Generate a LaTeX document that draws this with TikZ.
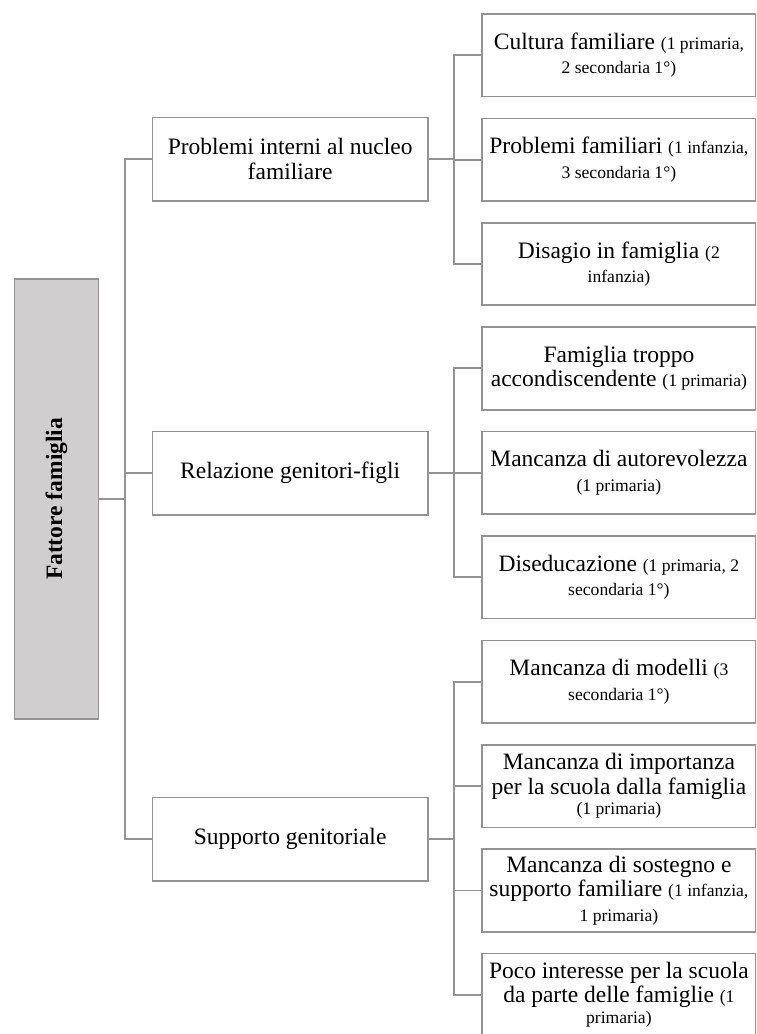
\documentclass[tikz,border=0pt]{standalone}
\usepackage{graphicx}
\usepackage{fontspec}
\setmainfont{Liberation Serif}
\definecolor{linegray}{RGB}{148,148,148}
\definecolor{rootfill}{RGB}{208,206,207}
% smaller font for the counts in brackets
\newcommand{\smalltxt}[1]{{\fontsize{17.6}{24.5}\selectfont #1}}
\begin{document}
\begin{tikzpicture}[x=1pt,y=-1pt,
  basebox/.style={draw=linegray, line width=1.8pt, inner sep=0pt, align=center,
    anchor=north west, font=\fontsize{23.5}{24.5}\selectfont},
  rootbox/.style={basebox, fill=rootfill, minimum width=84pt, minimum height=440pt},
  midbox/.style={basebox, fill=white, minimum width=275.5pt, minimum height=83.5pt},
  leafbox/.style={basebox, fill=white, minimum width=274pt, minimum height=82.5pt},
  conn/.style={draw=linegray, line width=1.8pt}]
\useasboundingbox (0,0) rectangle (756,1034);
\clip (0,0) rectangle (756,1034);

% root
\node[rootbox] (root) at (13.5,278) {\rotatebox{90}{\bfseries Fattore famiglia}};

% second level
\node[midbox] (m1) at (151.5,116.5) {Problemi interni al nucleo\\ familiare};
\node[midbox] (m2) at (151.5,430.5) {Relazione genitori-figli};
\node[midbox] (m3) at (151.5,796.5) {Supporto genitoriale};

% leaves
\node[leafbox] (r1) at (481,13) {Cultura familiare \smalltxt{(1 primaria,}\\ \smalltxt{2 secondaria 1°)}};
\node[leafbox] (r2) at (481,117.5) {Problemi familiari \smalltxt{(1 infanzia,}\\ \smalltxt{3 secondaria 1°)}};
\node[leafbox] (r3) at (481,221.8) {Disagio in famiglia \smalltxt{(2}\\ \smalltxt{infanzia)}};
\node[leafbox] (r4) at (481,326.2) {Famiglia troppo\\ accondiscendente \smalltxt{(1 primaria)}};
\node[leafbox] (r5) at (481,430.6) {Mancanza di autorevolezza\\ \smalltxt{(1 primaria)}};
\node[leafbox] (r6) at (481,535) {Diseducazione \smalltxt{(1 primaria, 2}\\ \smalltxt{secondaria 1°)}};
\node[leafbox] (r7) at (481,639.5) {Mancanza di modelli \smalltxt{(3}\\ \smalltxt{secondaria 1°)}};
\node[leafbox] (r8) at (481,744) {Mancanza di importanza\\ per la scuola dalla famiglia\\[-4pt] \smalltxt{(1 primaria)}};
\node[leafbox] (r9) at (481,848.3) {Mancanza di sostegno e\\ supporto familiare \smalltxt{(1 infanzia,}\\ \smalltxt{1 primaria)}};
\node[leafbox] (r10) at (481,952.5) {Poco interesse per la scuola\\ da parte delle famiglie \smalltxt{(1}\\[-4pt] \smalltxt{primaria)}};

% trunk and branch columns
\coordinate (t) at (125,0);
\coordinate (b) at (454,0);

% root to second level
\draw[conn] (root.east) -- (root.east -| t);
\draw[conn] (m1.west) -- (m1.west -| t) -- (m3.west -| t) -- (m3.west);
\draw[conn] (m2.west) -- (m2.west -| t);

% second level to leaves
\draw[conn] (m1.east) -- (m1.east -| b);
\draw[conn] (r1.west) -- (r1.west -| b) -- (r3.west -| b) -- (r3.west);
\draw[conn] (r2.west) -- (r2.west -| b);

\draw[conn] (m2.east) -- (m2.east -| b);
\draw[conn] (r4.west) -- (r4.west -| b) -- (r6.west -| b) -- (r6.west);
\draw[conn] (r5.west) -- (r5.west -| b);

\draw[conn] (m3.east) -- (m3.east -| b);
\draw[conn] (r7.west) -- (r7.west -| b) -- (r10.west -| b) -- (r10.west);
\draw[conn] (r8.west) -- (r8.west -| b);
\draw[conn] (r9.west) -- (r9.west -| b);
\end{tikzpicture}
\end{document}
